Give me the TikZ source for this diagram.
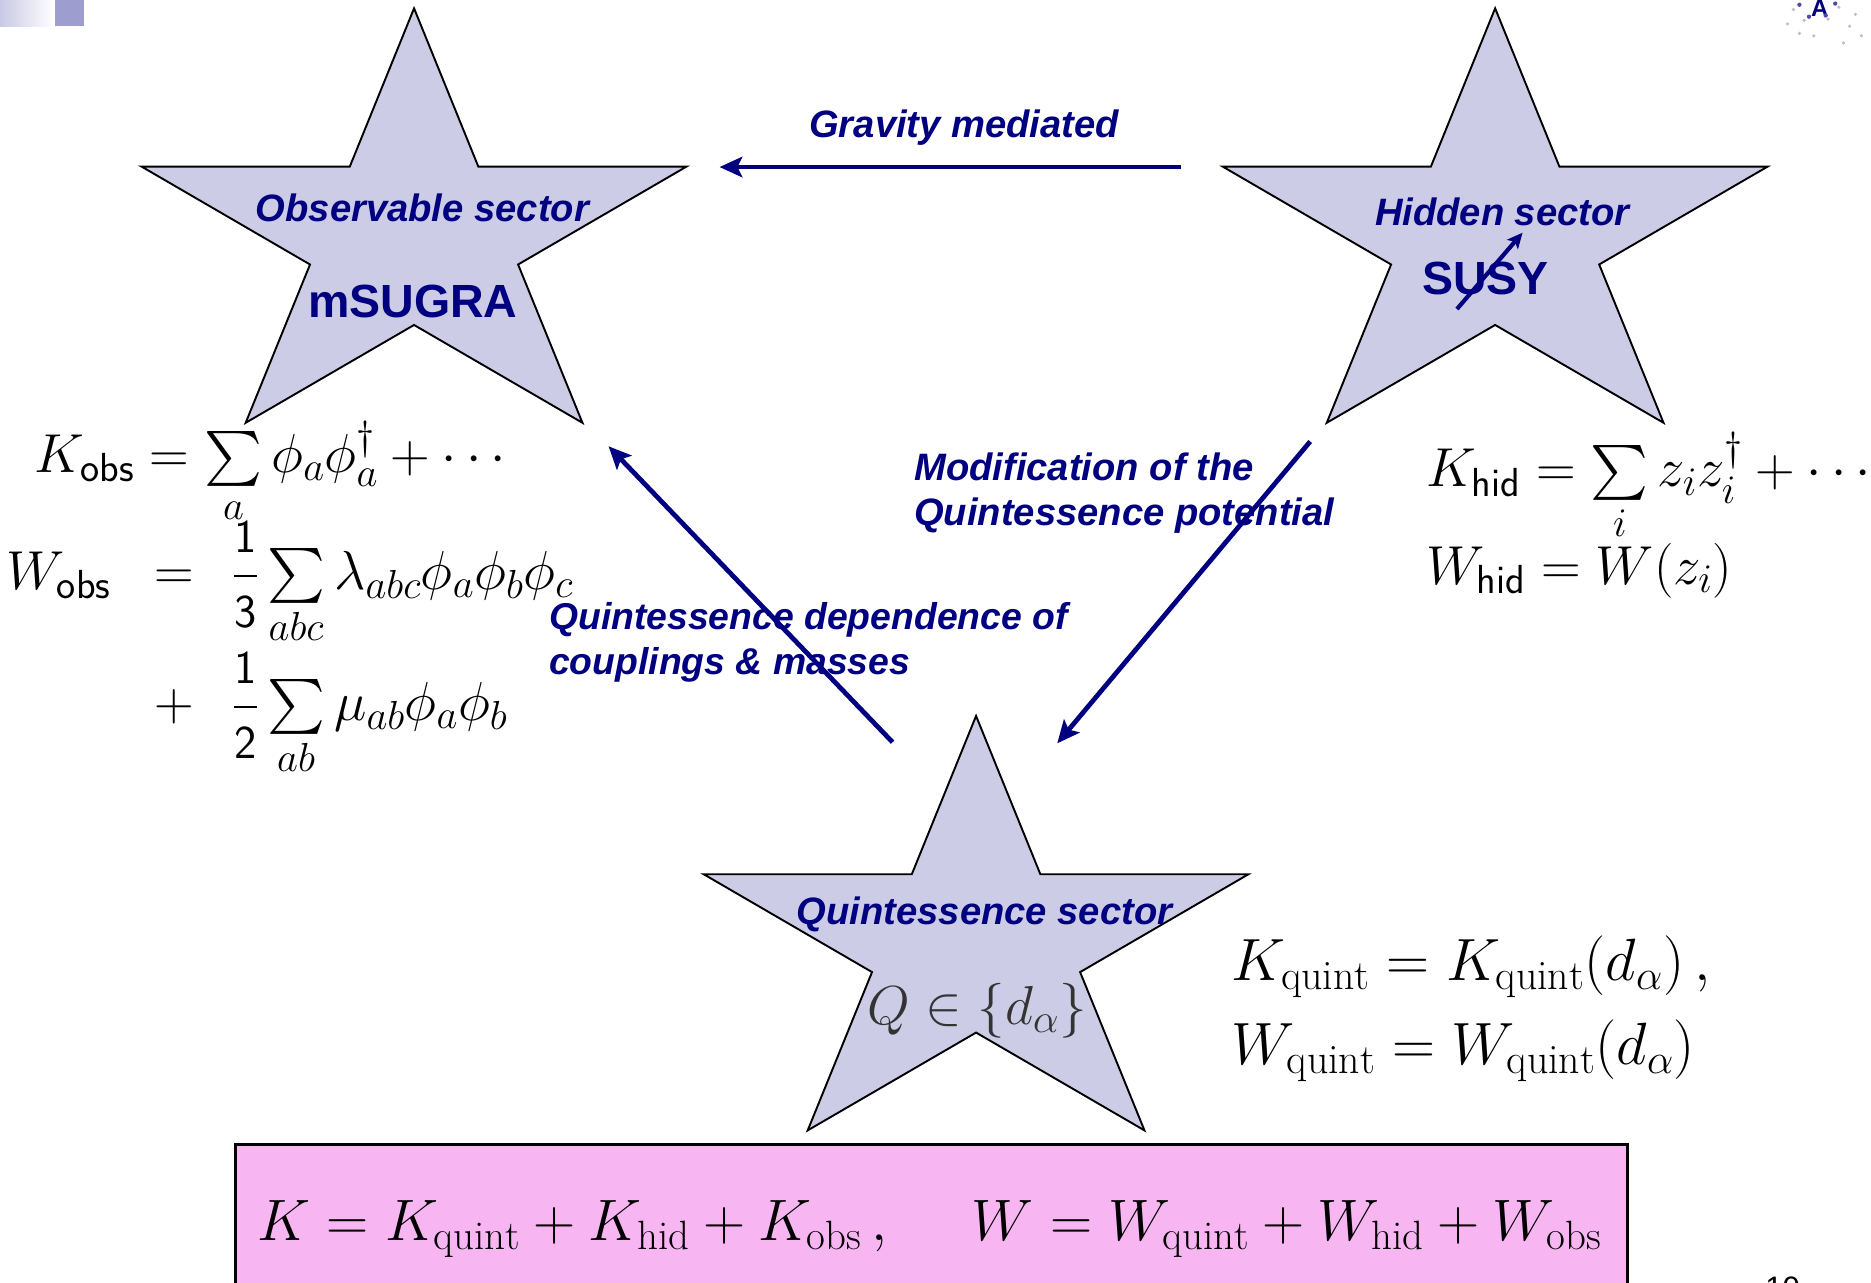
\RequirePackage{fix-cm}
\documentclass[tikz,border=0pt]{standalone}
\usepackage{amsmath}
\usepackage{graphicx}
\usepackage{fontspec}
\usetikzlibrary{arrows.meta}
\DeclareFontShape{OMX}{cmex}{m}{n}{<->cmex10}{}
\newfontfamily\labelfont{Liberation Sans}
\definecolor{navyblue}{RGB}{0,0,128}
\definecolor{starfill}{RGB}{204,204,230}
\definecolor{boxpink}{RGB}{247,182,242}
\definecolor{decolav}{RGB}{157,157,207}
\DeclareMathSizes{46}{46}{34}{25}
\newcommand{\bigsumop}{\mathop{\textstyle\sum}\limits}
\newcommand{\sfdigit}[1]{\scalebox{0.86}{$\mathsf{#1}$}}
\begin{document}
\begin{tikzpicture}[x=1pt,y=-1pt,
  starshape/.style={fill=starfill, draw=black, line width=1.6pt, line join=miter},
  sectorstar/.pic={\path[starshape] (0,-1) -- (0.2245,-0.309) -- (0.951,-0.309) -- (0.3633,0.118) -- (0.588,0.809) -- (0,0.382) -- (-0.588,0.809) -- (-0.3633,0.118) -- (-0.951,-0.309) -- (-0.2245,-0.309) -- cycle;},
  flow/.style={draw=navyblue, line width=4pt, -{Stealth[length=19pt,width=17pt,inset=4pt]}},
  smallflow/.style={draw=navyblue, line width=3.5pt, -{Stealth[length=13pt,width=12pt,inset=3pt]}},
  sectorlabel/.style={text=navyblue, font=\labelfont\bfseries\itshape\fontsize{32}{38}\selectfont, inner sep=0pt},
  arrowlabel/.style={sectorlabel, align=left, anchor=north west},
  bigname/.style={text=navyblue, font=\labelfont\bfseries\fontsize{39}{44}\selectfont, inner sep=0pt, anchor=base},
  mathbig/.style={font=\fontsize{46}{54}\selectfont, inner sep=0pt},
  mathquint/.style={font=\fontsize{50}{58}\selectfont, inner sep=0pt},
]
\useasboundingbox (0,0) rectangle (1568,1075);
\clip (0,0) rectangle (1568,1075);

% slide decorations
\shade[left color=decolav!55, right color=white] (0,0) rectangle (45,22);
\fill[decolav] (46,0) rectangle (70,22);
\node[text=navyblue, font=\labelfont\bfseries\fontsize{20}{20}\selectfont, inner sep=0pt, anchor=base] (logoA) at (1525,14) {A};
\foreach \p in {(1503,8),(1541,6),(1512,17),(1532,16),(1550,22),(1560,30),(1520,30),(1545,36),(1508,28),(1555,12),(1498,20)}
  \fill[gray!50] \p circle (1.5);
\foreach \p in {(1508,4),(1538,3),(1516,14),(1530,13)}
  \fill[navyblue!70] \p circle (1.8);

% stars
\coordinate (obs) at (347,199);
\coordinate (hid) at (1253,199);
\coordinate (quint) at (818,792);
\pic[xscale=240,yscale=192] at (obs) {sectorstar};
\pic[xscale=240,yscale=192] at (hid) {sectorstar};
\pic[xscale=240,yscale=192] at (quint) {sectorstar};

% star texts
\node[sectorlabel, anchor=base] (obslabel) at (354,186) {Observable sector};
\node[bigname] (msugra) at (346,266) {mSUGRA};
\node[sectorlabel, anchor=base] (hidlabel) at (1259,189) {Hidden sector};
\node[bigname] (susy) at (1245,247) {SUSY};
\node[sectorlabel, anchor=base] (quintlabel) at (825,775) {Quintessence sector};
\node[font=\fontsize{46}{52}\selectfont, text=black!80, inner sep=0pt] (qset) at (819,847) {$Q\in\{d_\alpha\}$};

% SUSY breaking arrow
\coordinate (susyA) at (1221,259);
\coordinate (susyB) at (1276,195);
\draw[smallflow] (susyA) -- (susyB);

% connectors
\coordinate (gravstart) at (990,140);
\coordinate (gravend) at (603,140);
\draw[flow] (gravstart) -- (gravend);
\node[sectorlabel, anchor=base] (gravlabel) at (808,115) {Gravity mediated};

\coordinate (depstart) at (748,622);
\coordinate (depend) at (510,374);
\draw[flow] (depstart) -- (depend);
\node[arrowlabel, font=\labelfont\bfseries\itshape\fontsize{31.3}{37}\selectfont] (deplabel) at (460,505) {Quintessence dependence of\\couplings \& masses};

\coordinate (modstart) at (1098,370);
\coordinate (modend) at (886,623);
\draw[flow] (modstart) -- (modend);
\node[arrowlabel] (modlabel) at (766,379) {Modification of the\\Quintessence potential};

% observable sector formulas
\node[mathbig, anchor=base west] (kobs) at (29,396) {$\displaystyle K_{\mathsf{obs}} = \bigsumop_a \phi_a\phi_a^\dagger + \cdots$};
\node[mathbig, anchor=base west] (wobs) at (5,494) {$W_{\mathsf{obs}}$};
\node[mathbig, anchor=base] (weq) at (146,494) {$=$};
\node[mathbig, anchor=base west] (wterm) at (195,494) {$\displaystyle \frac{\sfdigit{1}}{\sfdigit{3}}\bigsumop_{abc}\lambda_{abc}\phi_a\phi_b\phi_c$};
\node[mathbig, anchor=base] (wplus) at (146,604) {$+$};
\node[mathbig, anchor=base west] (wmass) at (195,604) {$\displaystyle \frac{\sfdigit{1}}{\sfdigit{2}}\bigsumop_{ab}\mu_{ab}\phi_a\phi_b$};

% hidden sector formulas
\node[mathbig, anchor=base west] (khid) at (1195,408) {$\displaystyle K_{\mathsf{hid}} = \bigsumop_i z_i z_i^\dagger + \cdots$};
\node[mathbig, anchor=base west] (whid) at (1195,490) {$W_{\mathsf{hid}} = W(z_i)$};

% quintessence formulas
\node[mathquint, anchor=base west] (kquint) at (1032,822) {$K_{\mathrm{quint}} = K_{\mathrm{quint}}(d_\alpha)\,,$};
\node[mathquint, anchor=base west] (wquint) at (1032,892) {$W_{\mathrm{quint}} = W_{\mathrm{quint}}(d_\alpha)$};

% total Kahler potential and superpotential
\node[draw=black, line width=2.5pt, fill=boxpink, minimum width=1167pt, minimum height=160pt, anchor=north west, inner sep=0pt] (sumbox) at (196,958) {};
\node[font=\fontsize{49}{56}\selectfont, inner sep=0pt, anchor=base] (sumformula) at (779,1040) {$K = K_{\mathrm{quint}} + K_{\mathrm{hid}} + K_{\mathrm{obs}}\,,\quad\; W = W_{\mathrm{quint}} + W_{\mathrm{hid}} + W_{\mathrm{obs}}$};

% page number (cut off)
\node[font=\labelfont\fontsize{26}{26}\selectfont, inner sep=0pt, anchor=north] (pagenum) at (1494,1070) {10};
\end{tikzpicture}
\end{document}
